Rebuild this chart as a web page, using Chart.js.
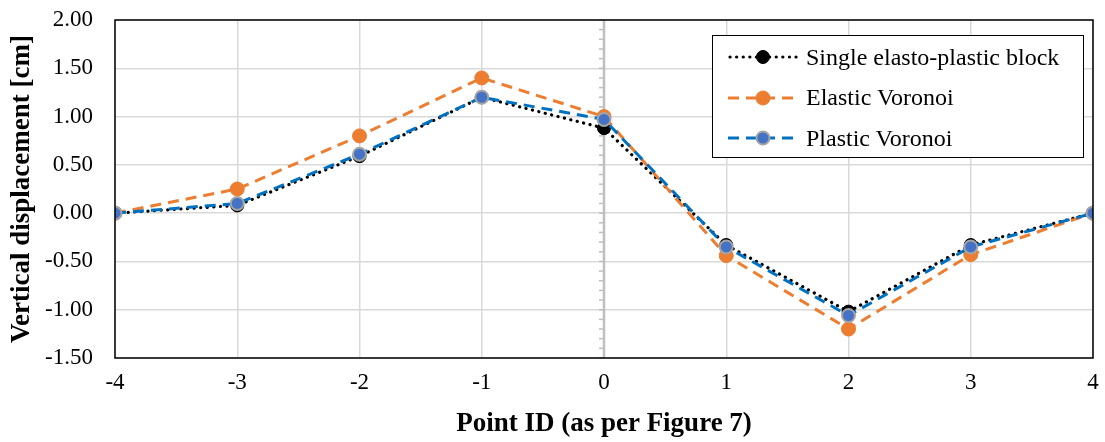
<!DOCTYPE html>
<html>
<head>
<meta charset="utf-8">
<script src="https://cdn.jsdelivr.net/npm/chart.js@4.4.1/dist/chart.umd.min.js"></script>
<style>
html, body { margin: 0; padding: 0; background: #fff; }
#wrap { position: relative; width: 1105px; height: 442px; }
#legend {
    position: absolute; left: 712px; top: 35px; width: 372px; height: 123px;
    border: 1.5px solid #000; background: #fff; box-sizing: border-box;
    font-family: "Liberation Serif", "Times New Roman", serif; font-size: 24px; color: #000;
    padding-top: 1px;
}
.item { display: flex; align-items: center; height: 40.5px; padding-left: 15px; }
.item canvas { margin-right: 8px; }
</style>
</head>
<body>
<div id="wrap">
    <canvas id="chart" width="1105" height="442"></canvas>
    <div id="legend"></div>
</div>
<script>
// data
const pointIds = [-4, -3, -2, -1, 0, 1, 2, 3, 4];
const singleBlock = [0, 0.08, 0.59, 1.20, 0.88, -0.33, -1.02, -0.33, 0];
const elasticVoronoi = [0, 0.25, 0.80, 1.40, 1.00, -0.44, -1.20, -0.43, 0];
const plasticVoronoi = [0, 0.10, 0.61, 1.20, 0.97, -0.35, -1.06, -0.35, 0];
const seriesNames = ["Single elasto-plastic block", "Elastic Voronoi", "Plastic Voronoi"];

const serif = "'Liberation Serif', 'Times New Roman', serif";

const toXY = (vals) => pointIds.map((x, i) => ({ x: x, y: vals[i] }));

const styles = [
    { line: "#000000", dash: [0.1, 6.5], width: 3.2, fill: "#000000", border: "#000000", bw: 1, r: 6.5 },
    { line: "#ED7D31", dash: [11, 7], width: 3, fill: "#ED7D31", border: "#ED7D31", bw: 1, r: 7 },
    { line: "#0070C0", dash: [11, 7], width: 3, fill: "#4472C4", border: "#A5A5A5", bw: 2, r: 6.5 }
];

const allValues = [singleBlock, elasticVoronoi, plasticVoronoi];

const datasets = allValues.map((vals, i) => ({
    label: seriesNames[i],
    data: toXY(vals),
    borderColor: styles[i].line,
    borderWidth: styles[i].width,
    borderDash: styles[i].dash,
    borderCapStyle: i === 0 ? "round" : "butt",
    pointRadius: styles[i].r,
    pointBackgroundColor: styles[i].fill,
    pointBorderColor: styles[i].border,
    pointBorderWidth: styles[i].bw,
    tension: 0,
    order: 3 - i
}));

// plot frame + gray axis at x = 0 with minor ticks
const framePlugin = {
    id: "frame",
    beforeDatasetsDraw(chart) {
        const { ctx, chartArea: a, scales } = chart;
        const x0 = scales.x.getPixelForValue(0);
        ctx.save();
        ctx.strokeStyle = "#BFBFBF";
        ctx.lineWidth = 2.5;
        ctx.beginPath();
        ctx.moveTo(x0, a.top);
        ctx.lineTo(x0, a.bottom);
        ctx.stroke();
        ctx.lineWidth = 1.5;
        for (let v = -15; v <= 20; v++) {
            const y = scales.y.getPixelForValue(v / 10);
            ctx.beginPath();
            ctx.moveTo(x0 - 5, y);
            ctx.lineTo(x0, y);
            ctx.stroke();
        }
        ctx.restore();
    },
    afterDraw(chart) {
        const { ctx, chartArea: a } = chart;
        ctx.save();
        ctx.strokeStyle = "#000";
        ctx.lineWidth = 1.5;
        ctx.strokeRect(a.left, a.top, a.right - a.left, a.bottom - a.top);
        ctx.restore();
    }
};

const chart = new Chart(document.getElementById("chart"), {
    type: "line",
    data: { datasets: datasets },
    options: {
        responsive: false,
        animation: false,
        layout: { padding: { left: 0, right: 12, top: 20, bottom: 0 } },
        plugins: { legend: { display: false }, tooltip: { enabled: false } },
        scales: {
            x: {
                type: "linear",
                min: -4, max: 4,
                ticks: { stepSize: 1, color: "#000", padding: 11, font: { family: serif, size: 23 } },
                grid: { color: "#D9D9D9", lineWidth: 1.5, drawTicks: false },
                border: { display: false },
                title: { display: true, text: "Point ID (as per Figure 7)", color: "#000",
                         font: { family: serif, size: 27, weight: "bold" }, padding: { top: 4, bottom: 2 } },
                afterFit(scale) {
                    scale.height = 84;
                    scale.paddingLeft = 0;
                    scale.paddingRight = 0;
                }
            },
            y: {
                min: -1.5, max: 2,
                ticks: { stepSize: 0.5, color: "#000", padding: 22, font: { family: serif, size: 23 },
                         callback: (v) => v.toFixed(2) },
                grid: { color: "#D9D9D9", lineWidth: 1.5, drawTicks: false },
                border: { display: false },
                title: { display: true, text: "Vertical displacement [cm]", color: "#000",
                         font: { family: serif, size: 27, weight: "bold" }, padding: { top: 6, bottom: 4 } },
                afterFit(scale) {
                    scale.width = 115;
                    scale.paddingTop = 0;
                    scale.paddingBottom = 0;
                }
            }
        }
    },
    plugins: [framePlugin]
});

// legend with line + marker icons
const legend = document.getElementById("legend");
styles.forEach((s, i) => {
    const item = document.createElement("div");
    item.className = "item";
    const icon = document.createElement("canvas");
    icon.width = 70; icon.height = 20;
    const c = icon.getContext("2d");
    c.strokeStyle = s.line;
    c.lineWidth = s.width;
    c.setLineDash(s.dash);
    c.lineCap = i === 0 ? "round" : "butt";
    c.beginPath();
    c.moveTo(i === 0 ? 2 : 0, 10);
    c.lineTo(70, 10);
    c.stroke();
    c.setLineDash([]);
    c.beginPath();
    c.arc(35, 10, s.r, 0, Math.PI * 2);
    c.fillStyle = s.fill;
    c.fill();
    c.lineWidth = s.bw;
    c.strokeStyle = s.border;
    c.stroke();
    const label = document.createElement("span");
    label.textContent = seriesNames[i];
    item.appendChild(icon);
    item.appendChild(label);
    legend.appendChild(item);
});
</script>
</body>
</html>
